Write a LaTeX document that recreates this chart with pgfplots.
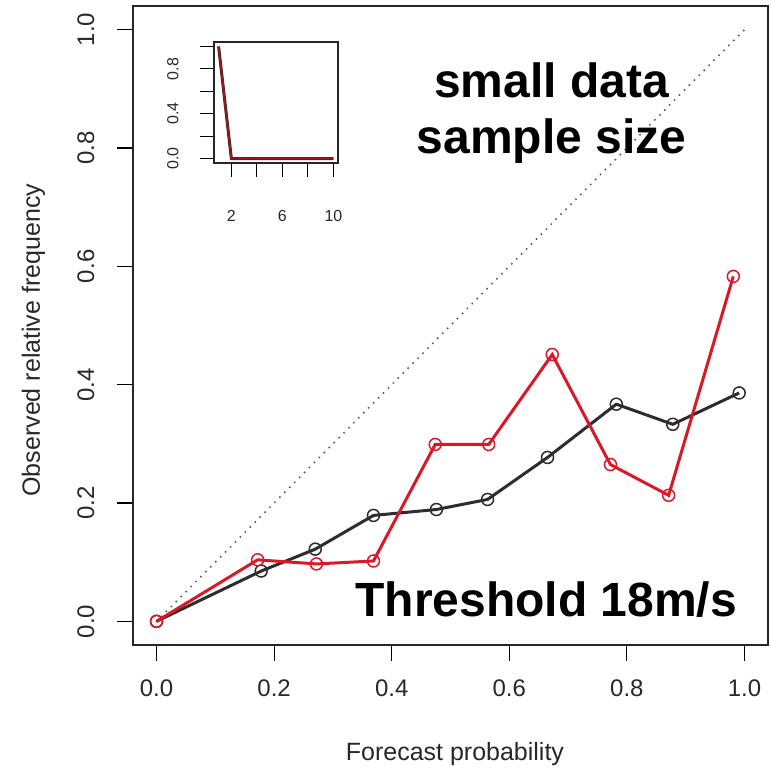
\documentclass[border=0pt]{standalone}
\usepackage{pgfplots}
\pgfplotsset{compat=1.18}
\usepackage{fontspec}
\setmainfont{Liberation Sans}
\definecolor{rred}{RGB}{218,24,38}
\definecolor{rblack}{RGB}{45,45,45}
\definecolor{tickgray}{RGB}{40,40,40}
\begin{document}
\begin{tikzpicture}
\begin{axis}[
  at={(0,0)}, anchor=south west,
  scale only axis, width=635bp, height=639bp,
  xmin=-0.04, xmax=1.04, ymin=-0.04, ymax=1.04,
  xtick={0,0.2,0.4,0.6,0.8,1.0},
  ytick={0,0.2,0.4,0.6,0.8,1.0},
  /pgf/number format/assume math mode=true,
  /pgf/number format/fixed, /pgf/number format/fixed zerofill,
  /pgf/number format/precision=1,
  tick align=outside, major tick length=16bp,
  tick style={line width=1.2bp, color=black},
  xtick pos=bottom, ytick pos=left,
  axis line style={line width=1.5bp, color=black!85},
  ticklabel style={font=\fontsize{24bp}{28bp}\selectfont, text=tickgray},
  xticklabel shift=15bp,
  yticklabel style={rotate=90, anchor=south},
  yticklabel shift=19bp,
  xlabel={Forecast probability},
  ylabel={Observed relative frequency},
  label style={font=\fontsize{25bp}{30bp}\selectfont, text=tickgray},
  xlabel style={at={(axis description cs:0.507,-0.170)}, anchor=center},
  ylabel style={at={(axis description cs:-0.157,0.477)}, anchor=center, rotate=0},
  clip=false,
]
\addplot[black!65, line width=2.2bp, dash pattern=on 0bp off 7bp, line cap=round] coordinates {(0,0) (1,1)};
\addplot[rblack, line width=3bp, mark=o, mark size=6bp, mark options={line width=1.5bp, fill=none}] coordinates {
(0,0) (0.178,0.085) (0.270,0.122) (0.369,0.179) (0.476,0.189) (0.563,0.206) (0.665,0.277) (0.782,0.367) (0.878,0.333) (0.991,0.386)};
\addplot[rred, line width=3bp, mark=o, mark size=6bp, mark options={line width=1.5bp, fill=none}] coordinates {
(0,0) (0.172,0.104) (0.272,0.097) (0.369,0.102) (0.474,0.299) (0.565,0.299) (0.673,0.451) (0.772,0.265) (0.871,0.213) (0.981,0.583)};
\node[font=\fontsize{48bp}{56bp}\selectfont\bfseries, align=center] at (axis cs:0.672,0.859) {small data\\sample size};
\node[font=\fontsize{48bp}{56bp}\selectfont\bfseries] at (axis cs:0.663,0.037) {Threshold 18m/s};
\end{axis}
\begin{axis}[
  at={(81bp,482bp)}, anchor=south west,
  scale only axis, width=124bp, height=121bp,
  xmin=0.64, xmax=10.36, ymin=-0.04, ymax=1.04,
  xtick={2,4,6,8,10}, xticklabels={2,,6,,10},
  ytick={0,0.2,0.4,0.6,0.8,1.0}, yticklabels={0.0,,0.4,,0.8,},
  tick align=outside, major tick length=14bp,
  tick style={line width=1.2bp, color=black},
  xtick pos=bottom, ytick pos=left,
  axis line style={line width=1.5bp, color=black!85},
  ticklabel style={font=\fontsize{16bp}{18bp}\selectfont, text=tickgray},
  xticklabel shift=30bp,
  yticklabel style={rotate=90, anchor=south},
  yticklabel shift=18bp,
  axis background/.style={fill=white},
]
\addplot[rblack, line width=3bp] coordinates {(1,1) (2,0) (3,0) (4,0) (5,0) (6,0) (7,0) (8,0) (9,0) (10,0)};
\addplot[rred!75!black, line width=1.8bp] coordinates {(1,1) (2,0) (3,0) (4,0) (5,0) (6,0) (7,0) (8,0) (9,0) (10,0)};
\end{axis}
\pgfresetboundingbox
\useasboundingbox (-133bp,-129bp) rectangle (638bp,645bp);
\end{tikzpicture}
\end{document}
